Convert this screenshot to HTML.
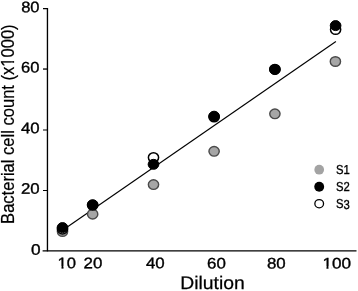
<!DOCTYPE html>
<html>
<head>
<meta charset="utf-8">
<title>Bacterial cell count vs Dilution</title>
<style>
html,body{margin:0;padding:0;background:#fff;}
body{width:358px;height:291px;overflow:hidden;}
svg{display:block;}
text{font-family:"Liberation Sans",Arial,Helvetica,sans-serif;fill:#000;}
.tick{font-size:15.3px;stroke:#000;stroke-width:0.35px;}
.leg{font-size:13px;stroke:#000;stroke-width:0.35px;}
</style>
</head>
<body>
<svg width="358" height="291" viewBox="0 0 358 291" xmlns="http://www.w3.org/2000/svg">
<rect width="358" height="291" fill="#fff"/>
<!-- axes -->
<g stroke="#000" fill="none">
<path d="M47.45 8V251.4" stroke-width="1.35"/>
<path d="M42.6 250.85H356.5" stroke-width="1.35"/>
<path d="M43 8.6H48M43 129.95H47M43 190.5H47" stroke-width="1.1"/>
<path d="M43 69.05H47" stroke-width="1.3"/>
</g>
<!-- regression line -->
<line x1="62.2" y1="230.5" x2="335.9" y2="41.5" stroke="#000" stroke-width="1.15"/>
<!-- S1 grey -->
<g fill="#a6a6a6" stroke="#4a4a4a" stroke-width="1.4">
<ellipse cx="62.5" cy="231.5" rx="5.15" ry="4.8"/>
<ellipse cx="92.65" cy="214.15" rx="5.15" ry="4.8"/>
<ellipse cx="153.5" cy="184.6" rx="5.15" ry="4.8"/>
<ellipse cx="214.1" cy="151.35" rx="5.15" ry="4.8"/>
<ellipse cx="274.9" cy="113.85" rx="5.15" ry="4.8"/>
<ellipse cx="335.4" cy="61.5" rx="5.15" ry="4.8"/>
</g>
<!-- S3 open -->
<g fill="#fff" stroke="#000" stroke-width="1.5">
<ellipse cx="62.5" cy="229.2" rx="5.1" ry="4.75"/>
<ellipse cx="92.65" cy="205.3" rx="5.1" ry="4.75"/>
<ellipse cx="153.5" cy="157.5" rx="5.1" ry="4.75"/>
<ellipse cx="214.1" cy="117.1" rx="5.1" ry="4.75"/>
<ellipse cx="274.9" cy="69.2" rx="5.1" ry="4.75"/>
<ellipse cx="335.6" cy="29.6" rx="5.1" ry="4.75"/>
</g>
<!-- S2 black -->
<g fill="#000" stroke="#000" stroke-width="1">
<ellipse cx="62.5" cy="227.6" rx="5.35" ry="5.0"/>
<ellipse cx="92.65" cy="204.7" rx="5.35" ry="5.0"/>
<ellipse cx="153.5" cy="164.35" rx="5.35" ry="5.0"/>
<ellipse cx="214.1" cy="116.2" rx="5.35" ry="5.0"/>
<ellipse cx="274.9" cy="69.6" rx="5.35" ry="5.0"/>
<ellipse cx="335.6" cy="25.6" rx="5.35" ry="5.0"/>
</g>
<!-- y tick labels -->
<g class="tick" transform="rotate(0.03 30 130)">
<text x="21.1" y="12.25" textLength="18.4" lengthAdjust="spacingAndGlyphs">80</text>
<text x="21.1" y="72.6" textLength="18.4" lengthAdjust="spacingAndGlyphs">60</text>
<text x="21" y="133.25" textLength="18.7" lengthAdjust="spacingAndGlyphs">40</text>
<text x="21" y="193.8" textLength="18.7" lengthAdjust="spacingAndGlyphs">20</text>
<text x="31.2" y="254.8" textLength="9.6" lengthAdjust="spacingAndGlyphs">0</text>
</g>
<!-- x tick labels -->
<g class="tick" transform="rotate(0.03 200 264)">
<text x="57.4" y="268.4" textLength="18.5" lengthAdjust="spacingAndGlyphs">10</text>
<text x="83.6" y="268.4" textLength="18.8" lengthAdjust="spacingAndGlyphs">20</text>
<text x="145.9" y="268.4" textLength="18.8" lengthAdjust="spacingAndGlyphs">40</text>
<text x="207" y="268.4" textLength="18.8" lengthAdjust="spacingAndGlyphs">60</text>
<text x="266.9" y="268.4" textLength="18.8" lengthAdjust="spacingAndGlyphs">80</text>
<text x="322.4" y="268.4" textLength="28.6" lengthAdjust="spacingAndGlyphs">100</text>
</g>
<!-- axis titles -->
<text x="180.3" y="289.1" transform="rotate(0.03 212 280)" font-size="18.2" textLength="64.5" lengthAdjust="spacingAndGlyphs" stroke="#000" stroke-width="0.25">Dilution</text>
<text transform="translate(13.9 223.9) rotate(-90) scale(1 1.07)" font-size="16.9" textLength="199.5" lengthAdjust="spacingAndGlyphs" stroke="#000" stroke-width="0.2">Bacterial cell count (x1000)</text>
<!-- trim the base serif of the digit 1 so it reads like the source typeface -->
<g fill="#fff">
<rect x="57.2" y="266.4" width="4.3" height="3.2"/><rect x="63.5" y="266.4" width="3.2" height="3.2"/>
<rect x="322.2" y="266.4" width="4.25" height="3.2"/><rect x="328.5" y="266.4" width="3.3" height="3.2"/>
<rect x="11.3" y="57.3" width="3.9" height="3.8"/><rect x="11.3" y="62.75" width="3.9" height="3.4"/>
</g>
<!-- legend -->
<circle cx="319.2" cy="169.7" r="4.85" fill="#a3a3a3"/>
<circle cx="319.2" cy="186.7" r="4.95" fill="#000"/>
<ellipse cx="319.2" cy="203.7" rx="4.35" ry="4.1" fill="#fff" stroke="#000" stroke-width="1.3"/>
<g class="leg" transform="rotate(0.03 343 190)">
<text x="335.9" y="174.1" textLength="13.8" lengthAdjust="spacingAndGlyphs">S1</text>
<text x="335.9" y="191.4" textLength="13.8" lengthAdjust="spacingAndGlyphs">S2</text>
<text x="335.9" y="208.5" textLength="13.8" lengthAdjust="spacingAndGlyphs">S3</text>
</g>
</svg>
</body>
</html>
